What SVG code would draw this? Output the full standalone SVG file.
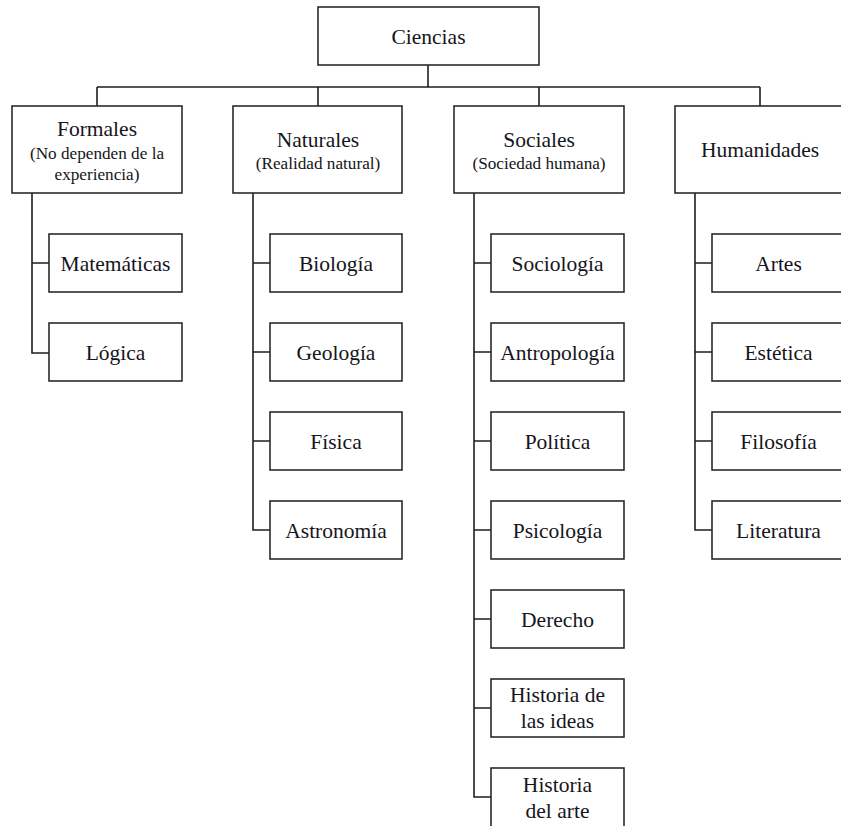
<svg xmlns="http://www.w3.org/2000/svg" width="841" height="826" viewBox="0 0 841 826">
<style>
.box{fill:#fff;stroke:#2b2b2b;stroke-width:1.6}
.ln{fill:none;stroke:#1e1e1e;stroke-width:1.6}
text{font-family:"Liberation Serif","DejaVu Serif",serif;fill:#151520;text-anchor:middle}
.t{font-size:21.5px}
.s{font-size:17.2px}
</style>
<rect x="0" y="0" width="841" height="826" fill="#fff"/>
<g id="connectors">
<path class="ln" d="M428,65V87M97,87H760M97,87V106M318,87V106M539,87V106M760,87V106"/>
<path class="ln" d="M32,193V353H49M32,263H49"/>
<path class="ln" d="M253,193V530H270M253,263H270M253,352H270M253,441H270"/>
<path class="ln" d="M474,193V797H491M474,263H491M474,352H491M474,441H491M474,530H491M474,619H491M474,708H491"/>
<path class="ln" d="M695,193V530H712M695,263H712M695,352H712M695,441H712"/>
</g>
<g id="ciencias"><rect class="box" x="318" y="7" width="221" height="58"/><text class="t" x="428.5" y="44">Ciencias</text></g>
<g id="formales"><rect class="box" x="12" y="106" width="170" height="87"/><text class="t" x="97" y="136">Formales</text><text class="s" x="97" y="159">(No dependen de la</text><text class="s" x="97" y="180">experiencia)</text></g>
<g id="naturales"><rect class="box" x="233" y="106" width="169" height="87"/><text class="t" x="318" y="147">Naturales</text><text class="s" x="318" y="169">(Realidad natural)</text></g>
<g id="sociales"><rect class="box" x="454" y="106" width="170" height="87"/><text class="t" x="539" y="147">Sociales</text><text class="s" x="539" y="169">(Sociedad humana)</text></g>
<g id="humanidades"><rect class="box" x="675" y="106" width="170" height="87"/><text class="t" x="760" y="157">Humanidades</text></g>
<g id="matematicas"><rect class="box" x="49" y="234" width="133" height="58"/><text class="t" x="115.5" y="271">Matemáticas</text></g>
<g id="logica"><rect class="box" x="49" y="323" width="133" height="58"/><text class="t" x="115.5" y="360">Lógica</text></g>
<g id="biologia"><rect class="box" x="270" y="234" width="132" height="58"/><text class="t" x="336" y="271">Biología</text></g>
<g id="geologia"><rect class="box" x="270" y="323" width="132" height="58"/><text class="t" x="336" y="360">Geología</text></g>
<g id="fisica"><rect class="box" x="270" y="412" width="132" height="58"/><text class="t" x="336" y="449">Física</text></g>
<g id="astronomia"><rect class="box" x="270" y="501" width="132" height="58"/><text class="t" x="336" y="538">Astronomía</text></g>
<g id="sociologia"><rect class="box" x="491" y="234" width="133" height="58"/><text class="t" x="557.5" y="271">Sociología</text></g>
<g id="antropologia"><rect class="box" x="491" y="323" width="133" height="58"/><text class="t" x="557.5" y="360">Antropología</text></g>
<g id="politica"><rect class="box" x="491" y="412" width="133" height="58"/><text class="t" x="557.5" y="449">Política</text></g>
<g id="psicologia"><rect class="box" x="491" y="501" width="133" height="58"/><text class="t" x="557.5" y="538">Psicología</text></g>
<g id="derecho"><rect class="box" x="491" y="590" width="133" height="58"/><text class="t" x="557.5" y="627">Derecho</text></g>
<g id="historia-ideas"><rect class="box" x="491" y="679" width="133" height="58"/><text class="t" x="557.5" y="702">Historia de</text><text class="t" x="557.5" y="728">las ideas</text></g>
<g id="historia-arte"><rect class="box" x="491" y="768" width="133" height="60"/><text class="t" x="557.5" y="792">Historia</text><text class="t" x="557.5" y="818">del arte</text></g>
<g id="artes"><rect class="box" x="712" y="234" width="133" height="58"/><text class="t" x="778.5" y="271">Artes</text></g>
<g id="estetica"><rect class="box" x="712" y="323" width="133" height="58"/><text class="t" x="778.5" y="360">Estética</text></g>
<g id="filosofia"><rect class="box" x="712" y="412" width="133" height="58"/><text class="t" x="778.5" y="449">Filosofía</text></g>
<g id="literatura"><rect class="box" x="712" y="501" width="133" height="58"/><text class="t" x="778.5" y="538">Literatura</text></g>
</svg>
